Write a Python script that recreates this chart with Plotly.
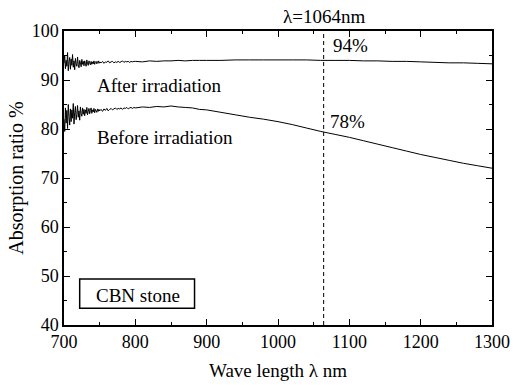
import plotly.graph_objects as go

# Wavelength grids (nm)
x_fine = list(range(700, 751, 1))        # 51 points
x_mid = list(range(752, 800, 2))         # 24 points
x_smooth = [800, 810, 820, 830, 840, 850, 860, 870, 880, 890, 900,
            920, 940, 960, 980, 1000, 1020, 1040, 1060, 1080, 1100, 1120, 1140, 1160,
            1180, 1200, 1220, 1240, 1260, 1280, 1300]

# After irradiation (%)
after_fine = [93.4, 95.1, 92.3, 94.0, 92.8, 95.6, 91.9, 93.7, 94.6, 92.2,
              94.3, 93.0, 95.2, 92.6, 93.9, 92.1, 94.4, 93.3, 92.8, 94.7,
              93.1, 92.5, 94.0, 93.6, 92.7, 94.2, 93.2, 93.8, 92.9, 93.9,
              93.4, 92.8, 94.1, 93.3, 93.0, 93.9, 93.5, 93.1, 93.8, 93.2,
              93.7, 93.3, 93.9, 93.2, 93.6, 93.8, 93.3, 93.6, 93.9, 93.4,
              93.7]
after_mid = [93.5, 93.8, 93.4, 93.7, 93.6, 93.9, 93.5, 93.7, 93.8, 93.5,
             93.7, 93.6, 93.8, 93.6, 93.7, 93.9, 93.6, 93.8, 93.7, 93.8,
             93.6, 93.8, 93.7, 93.8]
after_smooth = [93.8, 93.7, 93.9, 93.8, 93.9, 93.9, 94.0, 93.9, 94.0, 94.0, 94.0,
                94.0, 94.1, 94.1, 94.1, 94.1, 94.1, 94.1, 94.0, 94.0, 94.0, 93.9, 93.9, 93.8,
                93.8, 93.7, 93.6, 93.5, 93.5, 93.4, 93.3]

# Before irradiation (%)
before_fine = [82.0, 79.5, 84.3, 81.2, 83.8, 80.1, 85.0, 82.6, 80.8, 84.1,
               81.5, 83.9, 82.2, 85.2, 81.0, 83.3, 84.6, 81.9, 83.0, 84.8,
               82.4, 83.7, 81.8, 84.5, 83.1, 82.6, 84.3, 83.0, 84.0, 82.7,
               83.9, 83.2, 84.4, 82.9, 83.6, 84.2, 83.1, 83.8, 84.3, 83.2,
               83.9, 83.5, 84.2, 83.3, 84.0, 83.7, 83.4, 84.1, 83.6, 84.0,
               83.7]
before_mid = [84.0, 83.6, 84.1, 83.8, 84.2, 83.7, 84.0, 84.2, 83.9, 84.1,
              84.3, 84.0, 84.2, 84.1, 84.3, 84.0, 84.3, 84.2, 84.4, 84.1,
              84.3, 84.4, 84.2, 84.4]
before_smooth = [84.3, 84.5, 84.4, 84.6, 84.5, 84.7, 84.5, 84.4, 84.3, 84.0, 83.9,
                 83.4, 82.9, 82.4, 82.0, 81.5, 80.9, 80.2, 79.5, 78.9, 78.3, 77.6, 76.9, 76.2,
                 75.5, 74.8, 74.2, 73.6, 73.0, 72.5, 72.0]

x_ticks = [700, 800, 900, 1000, 1100, 1200, 1300]
y_ticks = [40, 50, 60, 70, 80, 90, 100]
laser_nm = 1064

FONT = "'Liberation Serif', 'Times New Roman', Times, serif"
x_all = x_fine + x_mid + x_smooth
fig = go.Figure()
fig.add_trace(go.Scatter(x=x_all, y=after_fine + after_mid + after_smooth, mode="lines",
                         line=dict(color="black", width=1, simplify=False), showlegend=False,
                         hoverinfo="skip"))
fig.add_trace(go.Scatter(x=x_all, y=before_fine + before_mid + before_smooth, mode="lines",
                         line=dict(color="black", width=1, simplify=False), showlegend=False,
                         hoverinfo="skip"))

fig.add_shape(type="line", x0=laser_nm, x1=laser_nm, xref="x", yref="paper", y0=0, y1=1,
              line=dict(color="black", width=1, dash="4px,3px"))
fig.add_shape(type="rect", x0=722, x1=883, y0=43.4, y1=49.4, xref="x", yref="y",
              line=dict(color="black", width=1.5), fillcolor="white")

ann = dict(showarrow=False, font=dict(family=FONT, size=19, color="black"))
fig.add_annotation(x=laser_nm, y=1, xref="x", yref="paper", yanchor="bottom", yshift=2,
                   text="λ=1064nm", **ann)
fig.add_annotation(x=1101, y=97.0, text="94%", **ann)
fig.add_annotation(x=1098, y=81.6, text="78%", **ann)
fig.add_annotation(x=743, y=88.9, xanchor="left", text="After irradiation", **ann)
fig.add_annotation(x=743, y=78.2, xanchor="left", text="Before irradiation", **ann)
fig.add_annotation(x=804, y=46.0, text="CBN stone", **ann)

axis_common = dict(showgrid=False, zeroline=False, showline=True, linecolor="black", linewidth=1.5,
                   mirror="allticks", ticks="inside", ticklen=6, tickwidth=1, tickcolor="black",
                   tickfont=dict(family=FONT, size=18, color="black"))
fig.update_xaxes(range=[700, 1300], tickvals=x_ticks, ticktext=[str(v) for v in x_ticks],
                 minor=dict(dtick=50, tick0=700, ticks="inside", ticklen=3, tickcolor="black"),
                 title=dict(text="Wave length λ nm", font=dict(family=FONT, size=19, color="black"),
                            standoff=12),
                 **axis_common)
fig.update_yaxes(range=[40, 100], tickvals=y_ticks, ticktext=[str(v) for v in y_ticks],
                 minor=dict(dtick=5, tick0=40, ticks="inside", ticklen=3, tickcolor="black"),
                 title=dict(text="Absorption ratio %", font=dict(family=FONT, size=20, color="black"),
                            standoff=3),
                 **axis_common)

fig.update_layout(width=513, height=385, margin=dict(l=64, r=21, t=31, b=60, autoexpand=False),
                  plot_bgcolor="white", paper_bgcolor="white")
# remove the default 8px page margin so the figure fills the window exactly
fig.write_html("out.html", config={"displayModeBar": False},
               post_script="document.body.style.margin='0';")
